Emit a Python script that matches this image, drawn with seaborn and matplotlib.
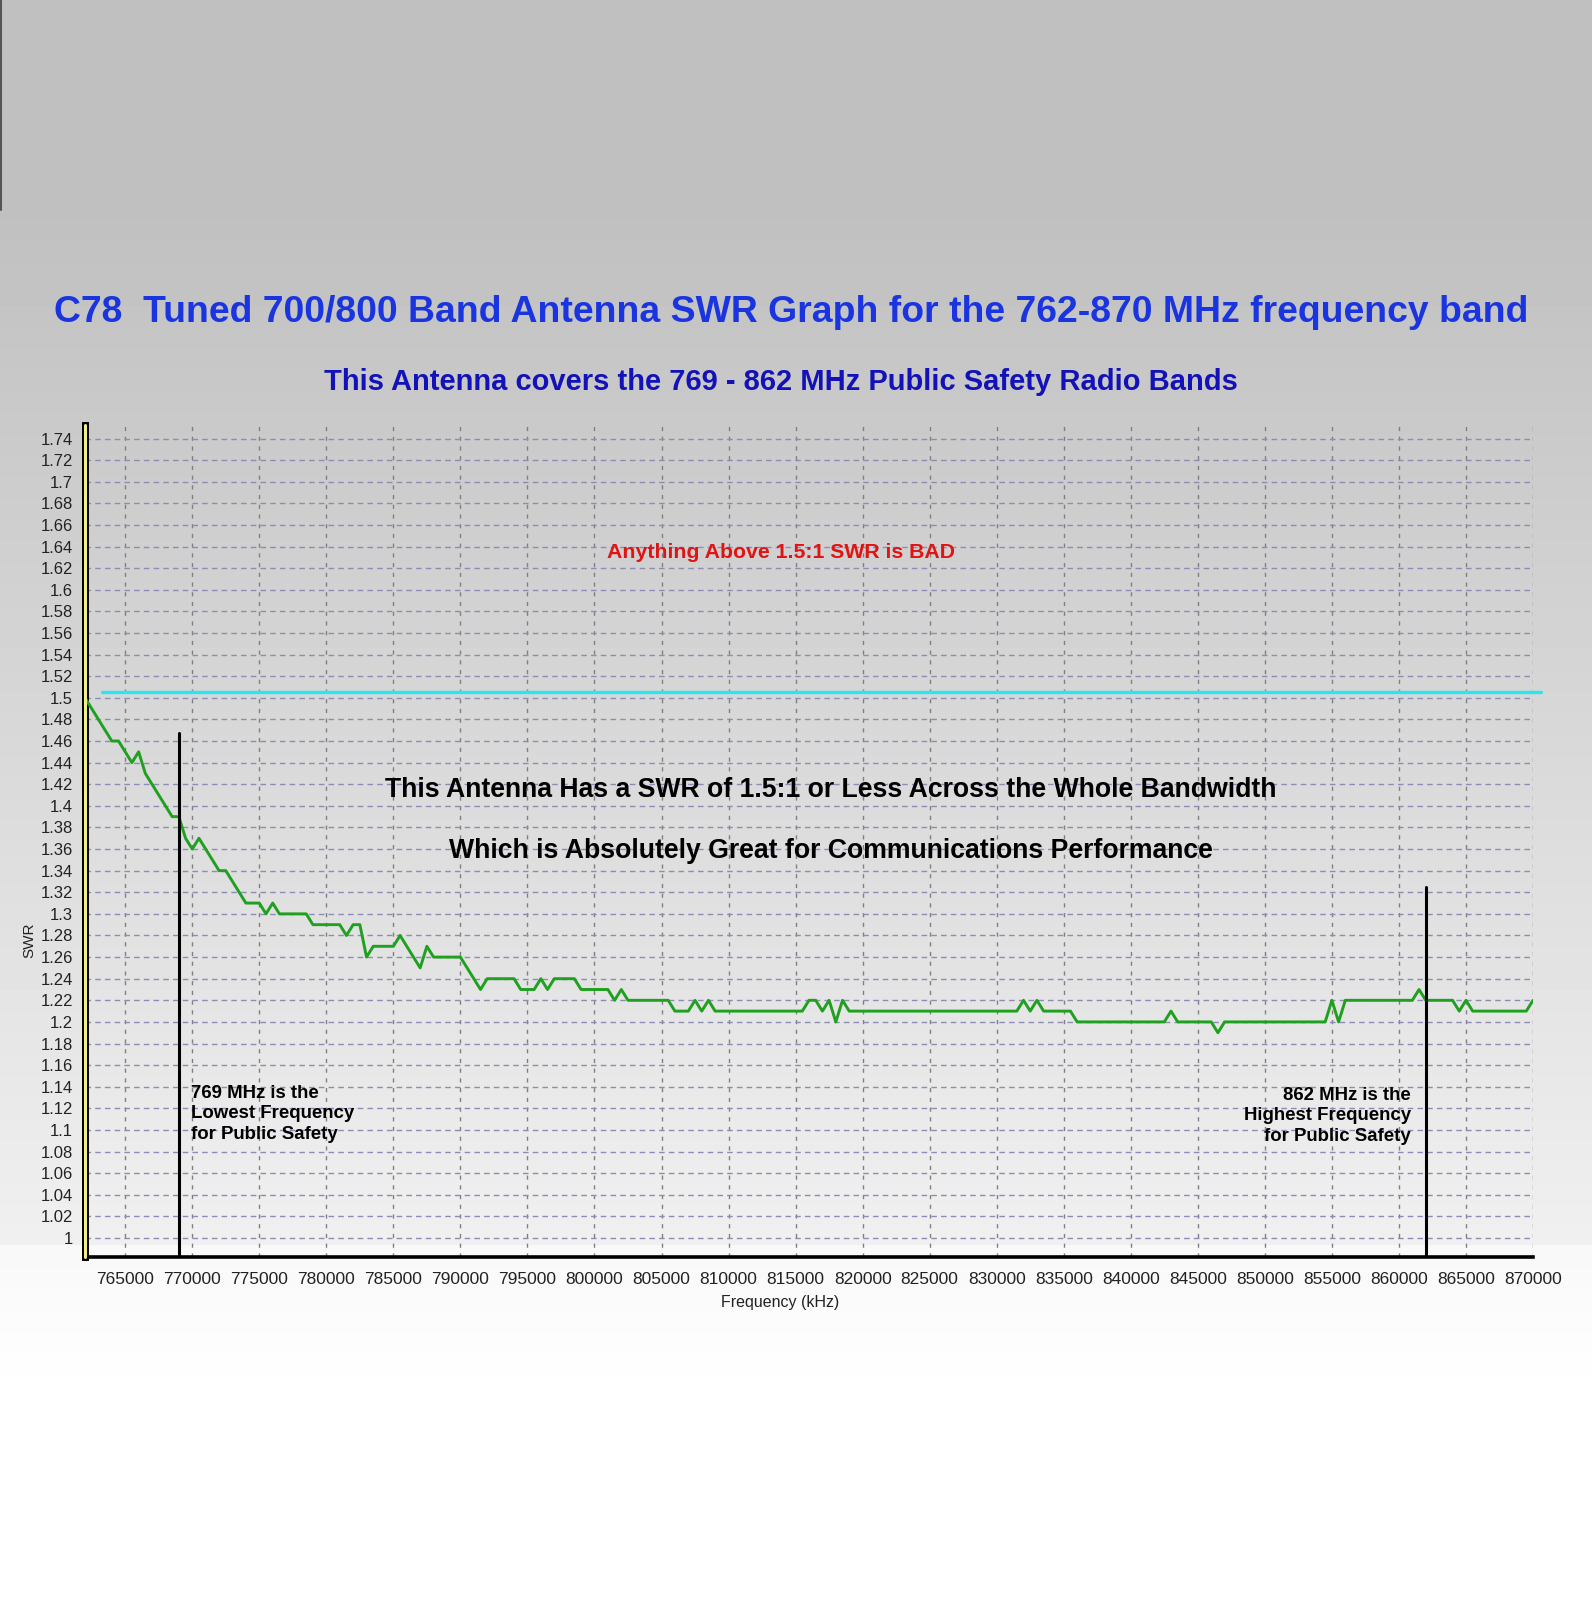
import numpy as np
import matplotlib
matplotlib.use("Agg")
import matplotlib.pyplot as plt
import matplotlib.ticker as mticker
import seaborn as sns
import pandas as pd

# SWR sweep (vertices of the trace)
freq_khz = [762000, 764000, 764500, 765500, 766000, 766500, 768500, 769000, 769500, 770000,
            770500, 772000, 772500, 774000, 775000, 775500, 776000, 776500, 778500, 779000,
            781000, 781500, 782000, 782500, 783000, 783500, 785000, 785500, 787000, 787500,
            788000, 790000, 791500, 792000, 794000, 794500, 795500, 796000, 796500, 797000,
            798500, 799000, 801000, 801500, 802000, 802500, 805500, 806000, 807000, 807500,
            808000, 808500, 809000, 815500, 816000, 816500, 817000, 817500, 818000, 818500,
            819000, 831500, 832000, 832500, 833000, 833500, 835500, 836000, 842500, 843000,
            843500, 846000, 846500, 847000, 854500, 855000, 855500, 856000, 861000, 861500,
            862000, 864000, 864500, 865000, 865500, 869500, 870000]
swr = [1.50, 1.46, 1.46, 1.44, 1.45, 1.43, 1.39, 1.39, 1.37, 1.36,
       1.37, 1.34, 1.34, 1.31, 1.31, 1.30, 1.31, 1.30, 1.30, 1.29,
       1.29, 1.28, 1.29, 1.29, 1.26, 1.27, 1.27, 1.28, 1.25, 1.27,
       1.26, 1.26, 1.23, 1.24, 1.24, 1.23, 1.23, 1.24, 1.23, 1.24,
       1.24, 1.23, 1.23, 1.22, 1.23, 1.22, 1.22, 1.21, 1.21, 1.22,
       1.21, 1.22, 1.21, 1.21, 1.22, 1.22, 1.21, 1.22, 1.20, 1.22,
       1.21, 1.21, 1.22, 1.21, 1.22, 1.21, 1.21, 1.20, 1.20, 1.21,
       1.20, 1.20, 1.19, 1.20, 1.20, 1.22, 1.20, 1.22, 1.22, 1.23,
       1.22, 1.22, 1.21, 1.22, 1.21, 1.21, 1.22]

limit_swr = 1.505          # the "1.5:1" reference line
limit_span = [763300, 870600]
band_edges = [769000, 862000]
band_edge_tops = [1.467, 1.325]

x_ticks = list(range(765000, 870001, 5000))
y_ticks = [round(1 + 0.02 * i, 2) for i in range(38)]

df = pd.DataFrame({"Frequency (kHz)": freq_khz, "SWR": swr})

sns.set_theme(style="white")
plt.rcParams['font.family'] = ['Liberation Sans', 'DejaVu Sans']

W, H = 1592, 1600
fig = plt.figure(figsize=(W / 100, H / 100), dpi=100)

# background gradient (grey at the top, fading towards white)
rows = np.arange(H)
shade = np.full(H, 192.0)
mid = (rows >= 215) & (rows < 1245)
shade[mid] = 192 + (rows[mid] - 215) / (1245 - 215) * 48
low = rows >= 1245
shade[low] = np.clip(248 + (rows[low] - 1245) / 150 * 7, 0, 255)
bg = fig.add_axes([0, 0, 1, 1])
bg.imshow(np.repeat(shade.reshape(-1, 1), 8, axis=1), cmap="gray", vmin=0, vmax=255,
          aspect="auto", extent=(0, W, H, 0), interpolation="nearest")
bg.plot([1, 1], [0, 210], color="#555555", lw=1.5)
bg.set_xlim(0, W)
bg.set_ylim(H, 0)
bg.axis("off")
bg.set_zorder(0)

def fx(px):
    return px / W

def fy(py):
    return 1 - py / H

ax = fig.add_axes([fx(85), fy(1257), fx(1533) - fx(85), fy(425) - fy(1257)])
ax.set_zorder(1)
ax.set_facecolor("none")

sns.lineplot(data=df, x="Frequency (kHz)", y="SWR", ax=ax, color="#1fa01f",
             linewidth=2.1, sort=False, estimator=None, zorder=4)

ax.plot(limit_span, [limit_swr, limit_swr], color="#26e8f2", lw=2.4,
        clip_on=False, zorder=3)
for f, top in zip(band_edges, band_edge_tops):
    ax.plot([f, f], [0.9824, top], color="black", lw=2.2, zorder=5)

ax.set_xlim(762000, 870000)
ax.set_ylim(0.9824, 1.7525)
ax.set_xticks(x_ticks)
ax.xaxis.set_minor_locator(mticker.MultipleLocator(1000))
ax.set_yticks(y_ticks)
ax.yaxis.set_major_formatter(mticker.FuncFormatter(lambda v, p: f"{round(v, 2):g}"))
ax.xaxis.set_major_formatter(mticker.FuncFormatter(lambda v, p: f"{int(v)}"))

ax.yaxis.grid(True, color="#8c8cb4", linestyle=(0, (4, 3)), lw=1.0)
ax.xaxis.grid(True, color="#808080", linestyle=(0, (3, 4)), lw=1.0)
ax.set_axisbelow(True)

for s in ["top", "right"]:
    ax.spines[s].set_visible(False)
ax.spines["left"].set_color("black")
ax.spines["left"].set_linewidth(5)
ax.spines["bottom"].set_color("black")
ax.spines["bottom"].set_linewidth(2.6)
ax.axvline(762000, color="#f2ee8c", lw=2.2, zorder=6, clip_on=False)

ax.tick_params(axis="both", which="major", direction="out", length=4.5, width=1,
               color="black", labelcolor="#222222")
ax.tick_params(axis="x", which="major", labelsize=12.5, pad=6)
ax.tick_params(axis="y", which="major", labelsize=12, pad=4)
ax.tick_params(axis="x", which="minor", direction="out", length=2.5, width=0.8,
               color="black")

ax.set_xlabel("")
ax.set_ylabel("")
fig.text(fx(780), fy(1303), "Frequency (kHz)", fontsize=11.5, color="#222222",
         ha="center", va="center")
fig.text(fx(29), fy(940), "SWR", fontsize=11, color="#222222", rotation=90,
         ha="center", va="center")

# headings
fig.text(fx(791), fy(312), "C78  Tuned 700/800 Band Antenna SWR Graph for the 762-870 MHz frequency band",
         fontsize=26.9, fontweight="bold", color="#1a35e0", ha="center", va="center")
fig.text(fx(781), fy(382), "This Antenna covers the 769 - 862 MHz Public Safety Radio Bands",
         fontsize=21, fontweight="bold", color="#1212b8", ha="center", va="center")
fig.text(fx(781), fy(552), "Anything Above 1.5:1 SWR is BAD",
         fontsize=15.3, fontweight="bold", color="#e01414", ha="center", va="center")
fig.text(fx(831), fy(790), "This Antenna Has a SWR of 1.5:1 or Less Across the Whole Bandwidth",
         fontsize=19.2, fontweight="bold", color="black", ha="center", va="center")
fig.text(fx(831), fy(851), "Which is Absolutely Great for Communications Performance",
         fontsize=19.2, fontweight="bold", color="black", ha="center", va="center")

fig.text(fx(191), fy(1114), "769 MHz is the\nLowest Frequency\nfor Public Safety",
         fontsize=13.4, fontweight="bold", color="black", ha="left", va="center",
         linespacing=1.3)
fig.text(fx(1411), fy(1116), "862 MHz is the\nHighest Frequency\nfor Public Safety",
         fontsize=13.4, fontweight="bold", color="black", ha="right", va="center",
         linespacing=1.3, multialignment="right")

fig.savefig("out.png", dpi=100)
